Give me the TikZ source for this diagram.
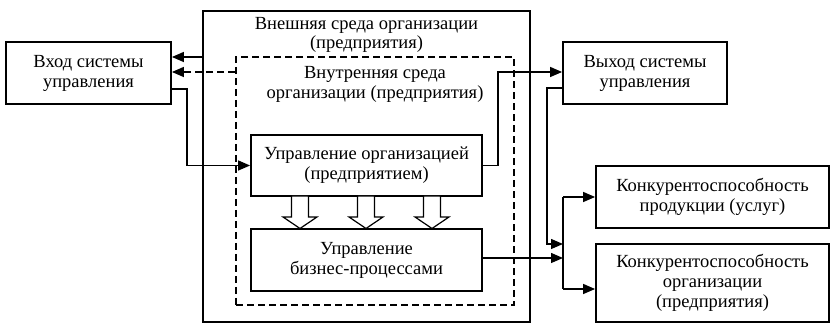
\documentclass[tikz,border=0pt]{standalone}
\usepackage{fontspec}
\setmainfont{Liberation Serif}
\usetikzlibrary{arrows.meta}
\begin{document}
\begin{tikzpicture}[x=1pt,y=-1pt,
  box/.style={draw,line width=1.8pt,rectangle,inner sep=0pt,align=center,font=\fontsize{18.5}{20}\selectfont},
  lbl/.style={inner sep=0pt,align=center,font=\fontsize{18.5}{19}\selectfont},
  conn/.style={line width=1.3pt},
  arr/.style={conn,-{Triangle[length=12pt,width=10pt]}},
  dsh/.style={dash pattern=on 7pt off 4pt},
  blk/.style={draw,fill=white,line width=1.2pt,line join=miter}]
\useasboundingbox (0,0) rectangle (833,328);
% containers
\node[draw,line width=1.8pt,rectangle,inner sep=0pt,minimum width=327pt,minimum height=311pt] (outer) at (366.5,166.5) {};
\node[draw,line width=1.6pt,dsh,rectangle,inner sep=0pt,minimum width=278pt,minimum height=248pt] (dash) at (375,181) {};
\node[lbl] (outerlbl) at (366.5,35) {Внешняя среда организации\\(предприятия)};
\node[lbl,font=\fontsize{18.5}{20}\selectfont] (dashlbl) at (375,84) {Внутренняя среда\\организации (предприятия)};
% boxes
\node[box,minimum width=165pt,minimum height=62pt] (in) at (88.5,73) {Вход системы\\управления};
\node[box,minimum width=164pt,minimum height=62pt] (out) at (645,73) {Выход системы\\управления};
\node[box,minimum width=231pt,minimum height=61pt] (ctrl) at (366.5,165.5) {Управление организацией\\(предприятием)};
\node[box,minimum width=231pt,minimum height=62pt] (bp) at (366.5,260) {Управление\\бизнес-процессами};
\node[box,minimum width=233pt,minimum height=62pt] (prod) at (712.5,197) {Конкурентоспособность\\продукции (услуг)};
\node[box,minimum width=233pt,minimum height=78pt] (org) at (712.5,283) {Конкурентоспособность\\организации\\(предприятия)};
% helper coordinates
\coordinate (yA) at (0,57);
\coordinate (yB) at (0,72);
\coordinate (yC) at (0,89);
\coordinate (yE) at (0,72);
\coordinate (yF) at (0,88);
\coordinate (yG) at (0,244);
\coordinate (yH) at (0,258);
\coordinate (yI) at (0,197);
\coordinate (yJ) at (0,289);
\coordinate (xA) at (187,0);
\coordinate (xB) at (498,0);
\coordinate (xC) at (547,0);
\coordinate (xD) at (563,0);
% connectors
\draw[arr] (outer.west|-yA) -- (in.east|-yA);
\draw[arr,dsh] (dash.west|-yB) -- (in.east|-yB);
\draw[arr] (in.east|-yC) -| (xA|-ctrl.west) -- (ctrl.west);
\draw[arr] (ctrl.east) -| (xB|-yE) -- (out.west|-yE);
\draw[arr] (out.west|-yF) -| (xC|-yG) -- (xD|-yG);
\draw[arr] (bp.east|-yH) -- (xD|-yH);
\draw[conn] (xD|-yI) -- (xD|-yJ);
\draw[arr] (xD|-yI) -- (prod.west|-yI);
\draw[arr] (xD|-yJ) -- (org.west|-yJ);
% block arrows
\foreach \xc in {300,366,432}{
  \draw[blk] (\xc-8.5,196) -- (\xc+8.5,196) -- (\xc+8.5,217) -- (\xc+17,217) -- (\xc,228.5) -- (\xc-17,217) -- (\xc-8.5,217) -- cycle;
}
\end{tikzpicture}
\end{document}
